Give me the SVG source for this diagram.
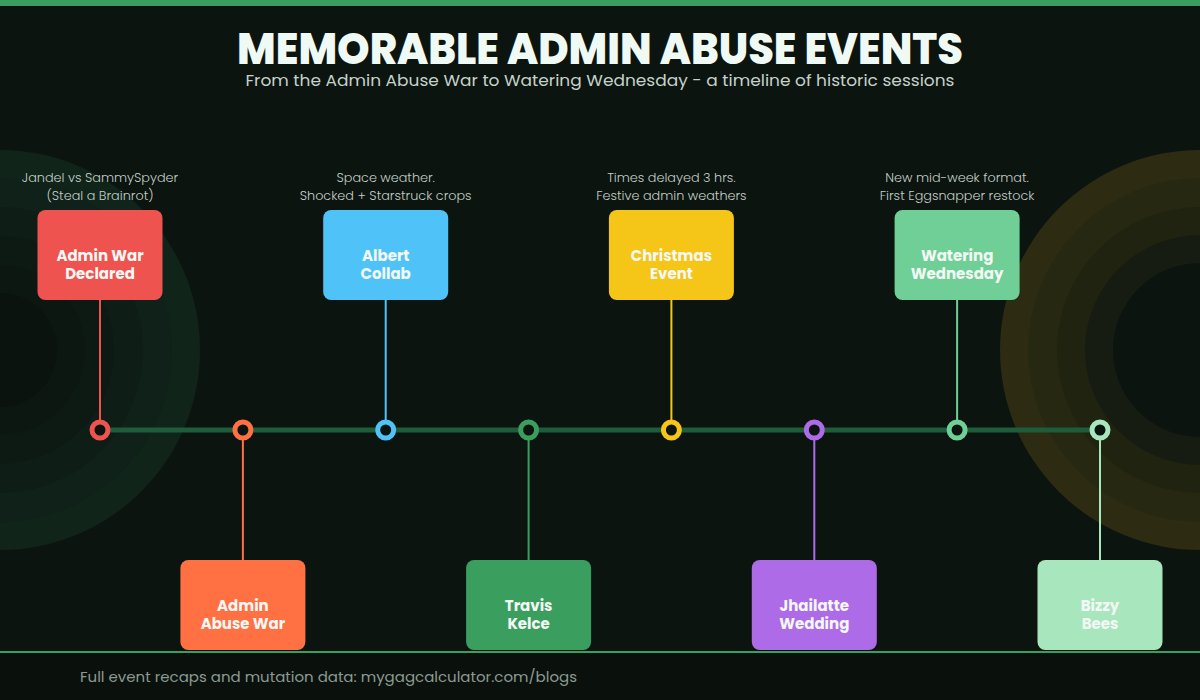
<svg xmlns="http://www.w3.org/2000/svg" width="1200" height="700" viewBox="0 0 1200 700">
  <style>
    .title { font-family: Poppins, "Open Sans", "Liberation Sans", sans-serif; font-weight: 800; font-size: 43px; fill: #f0faf4; text-anchor: middle; }
    .sub { font-family: Poppins, "Open Sans", "Liberation Sans", sans-serif; font-size: 16.5px; fill: #c5d2ca; text-anchor: middle; }
    .note { font-family: Poppins, "Open Sans", "Liberation Sans", sans-serif; font-weight: 300; font-size: 12.8px; fill: #c2cec6; text-anchor: middle; }
    .lbl { font-family: Poppins, "Open Sans", "Liberation Sans", sans-serif; font-weight: 700; font-size: 15px; fill: #f3f8f5; text-anchor: middle; }
    .foot { font-family: Poppins, "Open Sans", "Liberation Sans", sans-serif; font-size: 15px; fill: #8c9a92; }
    .dot { fill: #0c1410; stroke-width: 5; }
    .conn { stroke-width: 2; fill: none; }
  </style>
  <rect width="1200" height="700" fill="#0c1410"/>
  <g id="bg-left">
    <circle cx="0" cy="350" r="200" fill="#11241a"/>
    <circle cx="0" cy="350" r="172" fill="#0f2118"/>
    <circle cx="0" cy="350" r="143" fill="#0e1e16"/>
    <circle cx="0" cy="350" r="114" fill="#0d1a13"/>
    <circle cx="0" cy="350" r="85" fill="#0c1711"/>
    <circle cx="0" cy="350" r="57" fill="#0b130f"/>
  </g>
  <g id="bg-right">
    <circle cx="1200" cy="350" r="200" fill="#2d2c13"/>
    <circle cx="1200" cy="350" r="172" fill="#272811"/>
    <circle cx="1200" cy="350" r="143" fill="#20230f"/>
    <circle cx="1200" cy="350" r="115" fill="#161c12"/>
    <circle cx="1200" cy="350" r="87" fill="#0c1410"/>
  </g>
  <rect x="0" y="0" width="1200" height="6" fill="#3a9e5f"/>
  <g id="header">
    <text class="title" x="600" y="64" textLength="726" lengthAdjust="spacingAndGlyphs">MEMORABLE ADMIN ABUSE EVENTS</text>
    <text class="sub" x="600" y="86" textLength="709" lengthAdjust="spacingAndGlyphs">From the Admin Abuse War to Watering Wednesday - a timeline of historic sessions</text>
  </g>
  <g id="connectors">
    <line x1="100" y1="430" x2="1100" y2="430" stroke="#1f5c3a" stroke-width="5"/>
    <line class="conn" x1="100" y1="300" x2="100" y2="422" stroke="#ef5350"/>
    <line class="conn" x1="242.9" y1="438" x2="242.9" y2="560" stroke="#ff7043"/>
    <line class="conn" x1="385.7" y1="300" x2="385.7" y2="422" stroke="#4fc3f7"/>
    <line class="conn" x1="528.6" y1="438" x2="528.6" y2="560" stroke="#3a9e5f"/>
    <line class="conn" x1="671.4" y1="300" x2="671.4" y2="422" stroke="#f5c518"/>
    <line class="conn" x1="814.3" y1="438" x2="814.3" y2="560" stroke="#ae6be8"/>
    <line class="conn" x1="957.1" y1="300" x2="957.1" y2="422" stroke="#6fcf97"/>
    <line class="conn" x1="1100" y1="438" x2="1100" y2="560" stroke="#a8e6bd"/>
  </g>
  <g id="e1">
    <text class="note" x="100" y="182">Jandel vs SammySpyder</text>
    <text class="note" x="100" y="200">(Steal a Brainrot)</text>
    <rect x="37.5" y="210" width="125" height="90" rx="8" fill="#ef5350"/>
    <text class="lbl" x="100" y="260.5">Admin War</text>
    <text class="lbl" x="100" y="279">Declared</text>
    <circle class="dot" cx="100" cy="430" r="8" stroke="#ef5350"/>
  </g>
  <g id="e2">
    <rect x="180.4" y="560" width="125" height="90" rx="8" fill="#ff7043"/>
    <text class="lbl" x="242.9" y="610.5">Admin</text>
    <text class="lbl" x="242.9" y="629">Abuse War</text>
    <circle class="dot" cx="242.9" cy="430" r="8" stroke="#ff7043"/>
  </g>
  <g id="e3">
    <text class="note" x="385.7" y="182">Space weather.</text>
    <text class="note" x="385.7" y="200">Shocked + Starstruck crops</text>
    <rect x="323.2" y="210" width="125" height="90" rx="8" fill="#4fc3f7"/>
    <text class="lbl" x="385.7" y="260.5">Albert</text>
    <text class="lbl" x="385.7" y="279">Collab</text>
    <circle class="dot" cx="385.7" cy="430" r="8" stroke="#4fc3f7"/>
  </g>
  <g id="e4">
    <rect x="466.1" y="560" width="125" height="90" rx="8" fill="#3a9e5f"/>
    <text class="lbl" x="528.6" y="610.5">Travis</text>
    <text class="lbl" x="528.6" y="629">Kelce</text>
    <circle class="dot" cx="528.6" cy="430" r="8" stroke="#3a9e5f"/>
  </g>
  <g id="e5">
    <text class="note" x="671.4" y="182">Times delayed 3 hrs.</text>
    <text class="note" x="671.4" y="200">Festive admin weathers</text>
    <rect x="608.9" y="210" width="125" height="90" rx="8" fill="#f5c518"/>
    <text class="lbl" x="671.4" y="260.5">Christmas</text>
    <text class="lbl" x="671.4" y="279">Event</text>
    <circle class="dot" cx="671.4" cy="430" r="8" stroke="#f5c518"/>
  </g>
  <g id="e6">
    <rect x="751.8" y="560" width="125" height="90" rx="8" fill="#ae6be8"/>
    <text class="lbl" x="814.3" y="610.5">Jhailatte</text>
    <text class="lbl" x="814.3" y="629">Wedding</text>
    <circle class="dot" cx="814.3" cy="430" r="8" stroke="#ae6be8"/>
  </g>
  <g id="e7">
    <text class="note" x="957.1" y="182">New mid-week format.</text>
    <text class="note" x="957.1" y="200">First Eggsnapper restock</text>
    <rect x="894.6" y="210" width="125" height="90" rx="8" fill="#6fcf97"/>
    <text class="lbl" x="957.1" y="260.5">Watering</text>
    <text class="lbl" x="957.1" y="279">Wednesday</text>
    <circle class="dot" cx="957.1" cy="430" r="8" stroke="#6fcf97"/>
  </g>
  <g id="e8">
    <rect x="1037.5" y="560" width="125" height="90" rx="8" fill="#a8e6bd"/>
    <text class="lbl" x="1100" y="610.5">Bizzy</text>
    <text class="lbl" x="1100" y="629">Bees</text>
    <circle class="dot" cx="1100" cy="430" r="8" stroke="#a8e6bd"/>
  </g>
  <rect x="0" y="651" width="1200" height="49" fill="#0a110d"/>
  <line x1="0" y1="652" x2="1200" y2="652" stroke="#3a9e5f" stroke-width="2"/>
  <g id="footer">
    <text class="foot" x="80" y="682" textLength="497" lengthAdjust="spacingAndGlyphs">Full event recaps and mutation data: mygagcalculator.com/blogs</text>
  </g>
</svg>
